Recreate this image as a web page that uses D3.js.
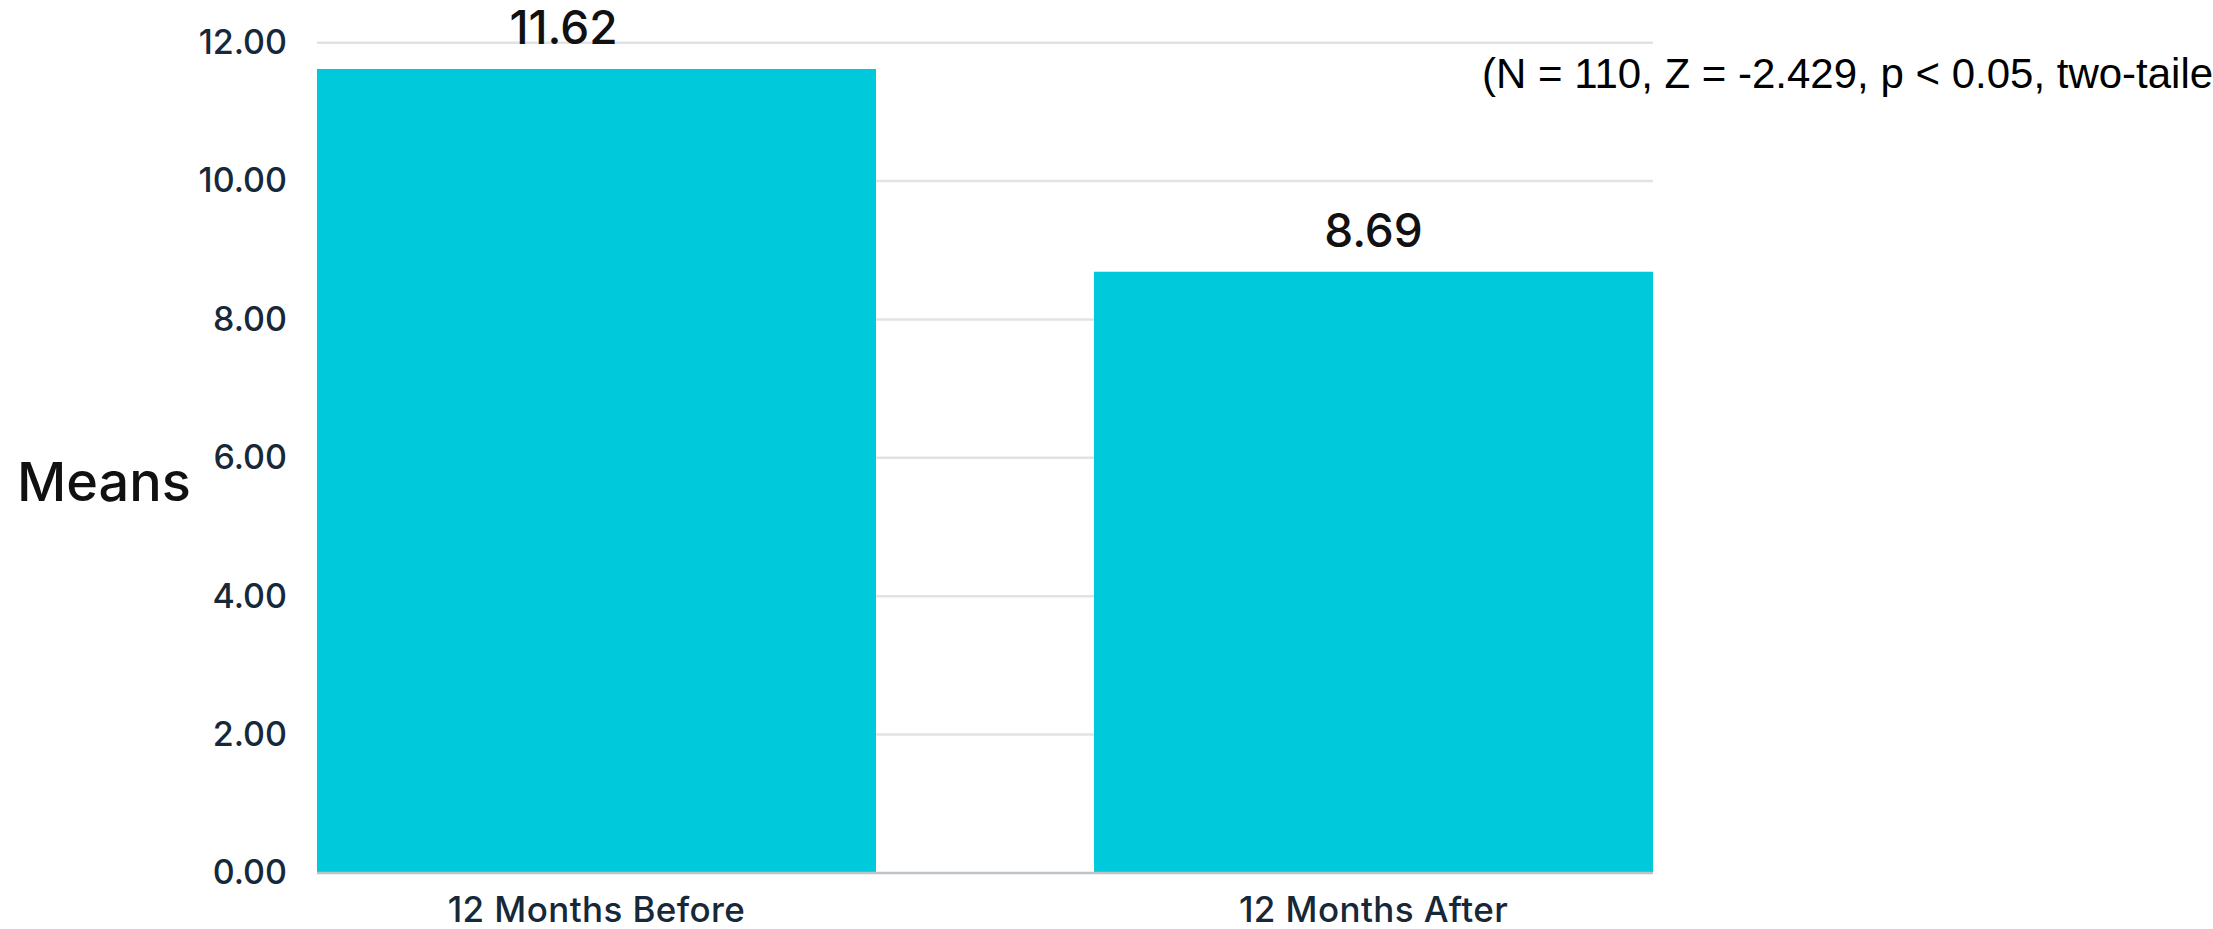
<!DOCTYPE html>
<html>
<head>
<meta charset="utf-8">
<script src="https://cdn.jsdelivr.net/npm/d3@7/dist/d3.min.js"></script>
<style>
  html, body { margin: 0; padding: 0; background: #ffffff; }
  svg { display: block; }
</style>
</head>
<body>
<svg id="chart" width="2213" height="929"></svg>
<script>
// ---- data ----
const categories = ["12 Months Before", "12 Months After"];
const means = [11.62, 8.69];
const yTicks = [0, 2, 4, 6, 8, 10, 12];
const yAxisTitle = "Means";
const statNote = "(N = 110, Z = -2.429, p < 0.05, two-tailed)";

// ---- layout ----
const W = 2213, H = 929;
const plot = { left: 317, right: 1653, top: 42.7, bottom: 873 };

const svg = d3.select("#chart");

const x = d3.scaleBand()
  .domain(categories)
  .range([plot.left, plot.right])
  .paddingInner(0.2806)
  .paddingOuter(0);

const y = d3.scaleLinear()
  .domain([0, 12])
  .range([plot.bottom, plot.top]);

// gridlines
svg.append("g")
  .selectAll("line")
  .data(yTicks.filter(d => d > 0))
  .join("line")
  .attr("x1", plot.left)
  .attr("x2", plot.right)
  .attr("y1", d => y(d))
  .attr("y2", d => y(d))
  .attr("stroke", "#e0e3e6")
  .attr("stroke-width", 2.5);

// bars
svg.append("g")
  .selectAll("rect")
  .data(categories.map((c, i) => ({ c, v: means[i] })))
  .join("rect")
  .attr("x", d => x(d.c))
  .attr("width", x.bandwidth())
  .attr("y", d => y(d.v))
  .attr("height", d => y(0) - y(d.v))
  .attr("fill", "#00c9db");

// baseline axis line
svg.append("line")
  .attr("x1", plot.left)
  .attr("x2", plot.right)
  .attr("y1", y(0))
  .attr("y2", y(0))
  .attr("stroke", "#bcc2c8")
  .attr("stroke-width", 2.5);

// y axis (labels only)
const yAxis = d3.axisLeft(y)
  .tickValues(yTicks)
  .tickFormat(d3.format(".2f"))
  .tickSize(0)
  .tickPadding(30);
const gy = svg.append("g")
  .attr("transform", `translate(${plot.left},0)`)
  .call(yAxis);
gy.select(".domain").remove();
gy.selectAll("text")
  .attr("font-family", "Inter, 'Noto Sans', sans-serif")
  .attr("font-size", 34)
  .attr("font-weight", 500)
  .attr("fill", "#172839");

// x axis (labels only)
const xAxis = d3.axisBottom(x).tickSize(0).tickPadding(0);
const gx = svg.append("g")
  .attr("transform", `translate(0,${plot.bottom})`)
  .call(xAxis);
gx.select(".domain").remove();
gx.selectAll("text")
  .attr("dy", null)
  .attr("y", 49)
  .attr("font-family", "Inter, 'Noto Sans', sans-serif")
  .attr("font-size", 35)
  .attr("font-weight", 500)
  .attr("letter-spacing", 0.4)
  .attr("fill", "#172839");

// value labels
svg.append("g")
  .selectAll("text")
  .data(categories.map((c, i) => ({ c, v: means[i] })))
  .join("text")
  .attr("x", d => x(d.c) + x.bandwidth() / 2)
  .attr("dx", (d, i) => i === 0 ? -33 : 0)
  .attr("y", d => y(d.v) - 25)
  .attr("text-anchor", "middle")
  .attr("font-family", "Inter, 'Noto Sans', sans-serif")
  .attr("font-size", 46)
  .attr("font-weight", 500)
  .attr("fill", "#111111")
  .text(d => d.v.toFixed(2));

// y axis title
svg.append("text")
  .attr("x", 17)
  .attr("y", 501)
  .attr("font-family", "Inter, 'Noto Sans', sans-serif")
  .attr("font-size", 54)
  .attr("font-weight", 500)
  .attr("fill", "#111111")
  .text(yAxisTitle);

// statistics note (clipped at the right edge, as in the reference)
svg.append("text")
  .attr("x", 1482)
  .attr("y", 88)
  .attr("font-family", "'Liberation Sans', Arial, sans-serif")
  .attr("font-size", 42)
  .attr("fill", "#000000")
  .text(statNote);
</script>
</body>
</html>
